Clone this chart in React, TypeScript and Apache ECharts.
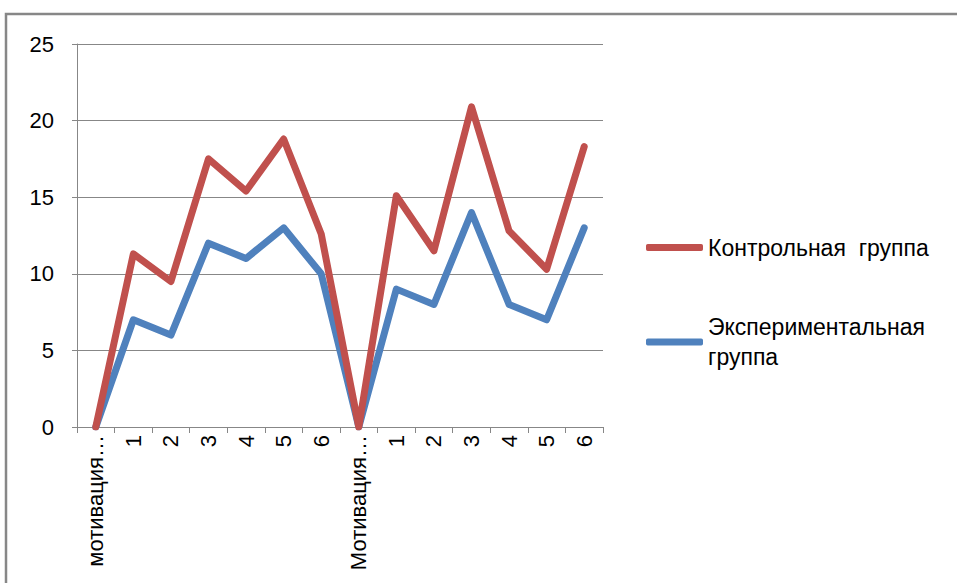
import React, { useEffect, useRef } from "react";
import * as echarts from "echarts";

const categories = ["мотивация…", "1", "2", "3", "4", "5", "6", "Мотивация…", "1", "2", "3", "4", "5", "6"];
const controlValues = [0, 11.3, 9.5, 17.5, 15.4, 18.8, 12.6, 0, 15.1, 11.5, 20.9, 12.8, 10.3, 18.3];
const experimentValues = [0, 7, 6, 12, 11, 13, 10, 0, 9, 8, 14, 8, 7, 13];
const controlName = "Контрольная  группа";
const experimentName = "Экспериментальная группа";

export default function App() {
  const ref = useRef<HTMLDivElement>(null);
  useEffect(() => {
    if (!ref.current) return;
    const chart = echarts.init(ref.current, undefined, { renderer: "svg" });
    const font = "'Liberation Sans', Arial, sans-serif";
    chart.setOption({
      animation: false,
      backgroundColor: "#ffffff",
      textStyle: { fontFamily: font },
      graphic: [
        {
          type: "rect",
          shape: { x: 6, y: 14, width: 1000, height: 700 },
          style: { fill: "none", stroke: "#878787", lineWidth: 2.5 },
          silent: true,
        },
      ],
      grid: { left: 77, top: 44, width: 526, height: 383, containLabel: false },
      legend: {
        orient: "vertical",
        left: 641,
        top: 231,
        itemWidth: 57,
        itemHeight: 7,
        itemGap: 38,
        icon: "roundRect",
        textStyle: { fontSize: 23, color: "#000", fontFamily: font },
        formatter: (n: string) => (n === experimentName ? "Экспериментальная\nгруппа" : n),
        data: [
          { name: controlName },
          { name: experimentName, textStyle: { padding: [30, 0, 0, 0], lineHeight: 30 } },
        ],
      },
      xAxis: {
        type: "category",
        data: categories,
        boundaryGap: true,
        axisLine: { show: true, lineStyle: { color: "#878787", width: 1 } },
        axisTick: { show: true, length: 6, alignWithLabel: false, lineStyle: { color: "#878787" } },
        axisLabel: { interval: 0, rotate: 90, fontSize: 22, color: "#000", margin: 8, fontFamily: font },
        splitLine: { show: false },
      },
      yAxis: {
        type: "value",
        min: 0,
        max: 25,
        interval: 5,
        axisLine: { show: true, lineStyle: { color: "#878787", width: 1 } },
        axisTick: { show: true, length: 5, lineStyle: { color: "#878787" } },
        axisLabel: { fontSize: 22, color: "#000", margin: 23, fontFamily: font },
        splitLine: { show: true, lineStyle: { color: "#878787", width: 1 } },
      },
      series: [
        {
          name: controlName,
          type: "line",
          data: controlValues,
          symbol: "none",
          color: "#C0504D",
          lineStyle: { width: 7, color: "#C0504D", join: "round", cap: "round" },
          z: 3,
        },
        {
          name: experimentName,
          type: "line",
          data: experimentValues,
          symbol: "none",
          color: "#4F81BD",
          lineStyle: { width: 7, color: "#4F81BD", join: "round", cap: "round" },
          z: 2,
        },
      ],
    });
    return () => chart.dispose();
  }, []);
  return (
    <div
      ref={ref}
      style={{ position: "fixed", left: 0, top: 0, width: 957, height: 583, background: "#fff" }}
    />
  );
}
